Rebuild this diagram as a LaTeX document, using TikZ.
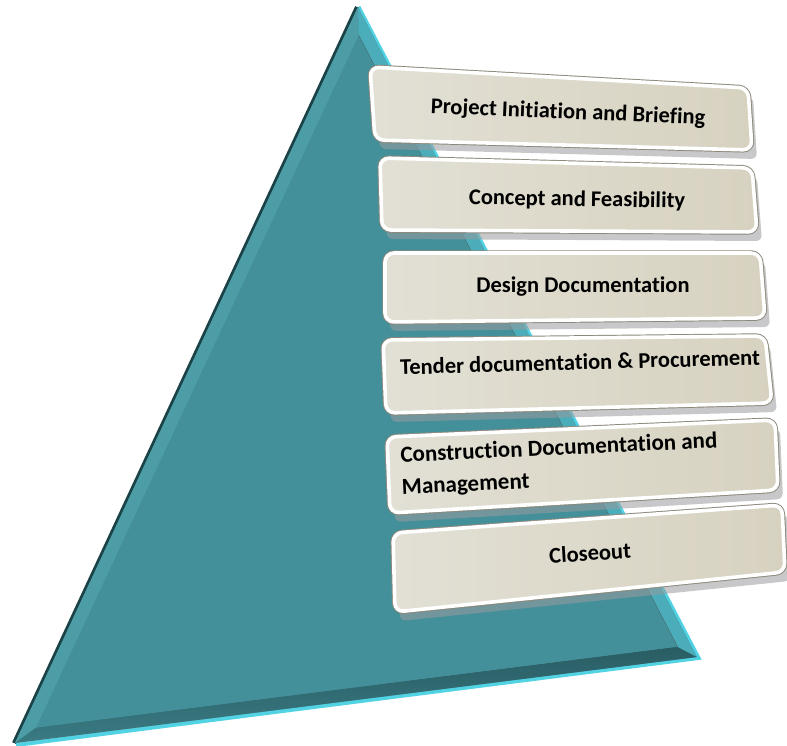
\documentclass[tikz,border=0pt]{standalone}
\usepackage{fontspec}
\setmainfont{Carlito}[Ligatures={NoCommon,NoContextual,NoRare}]
\usetikzlibrary{calc}
\definecolor{tealmain}{HTML}{44909A}
\definecolor{tealleft}{HTML}{4C9DA6}
\definecolor{tealbot}{HTML}{2A5D64}
\definecolor{tealright}{HTML}{4AADB9}
\definecolor{tealdark}{HTML}{1B4247}
\definecolor{cyanrim}{HTML}{52D3E4}
\definecolor{faceL}{HTML}{E2E0D5}
\definecolor{faceR}{HTML}{D7D2C0}
\definecolor{rimdark}{HTML}{8C897C}
\definecolor{shadowc}{HTML}{9A9A9E}
\newcommand\phasebox[1]{%
  \fill[shadowc, opacity=.55, rounded corners=6pt]
    ($(#1tl)+(5,9)$) -- ($(#1tr)+(5,9)$) -- ($(#1br)+(5,9)$) -- ($(#1bl)+(5,9)$) -- cycle;
  \draw[rimdark, line width=5.5pt, rounded corners=9pt]
    (#1tl) -- (#1tr) -- (#1br) -- (#1bl) -- cycle;
  \path[draw=white, line width=3.6pt, rounded corners=9pt, left color=faceL, right color=faceR]
    (#1tl) -- (#1tr) -- (#1br) -- (#1bl) -- cycle;
}
\tikzset{
  lbl/.style={font=\bfseries\fontsize{22.5}{30}\selectfont, text=black, inner sep=0pt},
}
\begin{document}
\begin{tikzpicture}[x=1pt,y=-1pt]
\useasboundingbox (0,0) rectangle (787,746);
% pyramid
\coordinate (A) at (358,7);
\coordinate (B) at (15,743);
\coordinate (C) at (697,657);
\coordinate (I) at (368.7,485.1);
\coordinate (A2) at ($(I)!0.94!(A)$);
\coordinate (B2) at ($(I)!0.94!(B)$);
\coordinate (C2) at ($(I)!0.94!(C)$);
\draw[cyanrim, line width=4pt, line join=miter] ($(B)+(1,2)$) -- ($(C)+(1.5,1)$) -- ($(A)+(0.5,0)$);
\draw[tealdark, line width=4pt] ($(A)+(-1,0)$) -- ($(B)+(-1,0)$);
\fill[tealmain] (A) -- (B) -- (C) -- cycle;
\fill[tealleft] (A) -- (B) -- (B2) -- (A2) -- cycle;
\shade[top color=tealbot, bottom color=tealmain!85!black] (B) -- (C) -- (C2) -- (B2) -- cycle;
\fill[tealright] (C) -- (A) -- (A2) -- (C2) -- cycle;
\draw[tealdark!80, line width=1pt] (A2) -- (C2);
\fill[tealmain] (A2) -- (B2) -- (C2) -- cycle;
% boxes
\coordinate (atl) at (370,67);  \coordinate (atr) at (748,88);  \coordinate (abr) at (752,150); \coordinate (abl) at (375,140);
\coordinate (btl) at (380,158); \coordinate (btr) at (752,168); \coordinate (bbr) at (757,232); \coordinate (bbl) at (382,230);
\coordinate (ctl) at (385,253); \coordinate (ctr) at (760,253); \coordinate (cbr) at (765,318); \coordinate (cbl) at (385,322);
\coordinate (dtl) at (383,340); \coordinate (dtr) at (765,336); \coordinate (dbr) at (772,403); \coordinate (dbl) at (386,413);
\coordinate (etl) at (387,437); \coordinate (etr) at (775,420); \coordinate (ebr) at (778,490); \coordinate (ebl) at (390,513);
\coordinate (ftl) at (393,533); \coordinate (ftr) at (782,505); \coordinate (fbr) at (785,572); \coordinate (fbl) at (395,612);
\phasebox{a}
\phasebox{b}
\phasebox{c}
\phasebox{d}
\phasebox{e}
\phasebox{f}
\node[lbl, rotate=-2.4] (t1) at (568,113) {Project Initiation and Briefing};
\node[lbl, rotate=-1.0] (t2) at (577,200) {Concept and Feasibility};
\node[lbl, rotate=0] (t3) at (583,287) {Design Documentation};
\node[lbl, rotate=1.6] (t4) at (580,362) {Tender documentation \& Procurement};
\node[lbl, font=\bfseries\fontsize{23}{32}\selectfont, rotate=2.6, anchor=west, align=left] (t5) at (401,472) {Construction Documentation and\\Management};
\node[lbl, rotate=3.5] (t6) at (590,553) {Closeout};
\end{tikzpicture}
\end{document}
